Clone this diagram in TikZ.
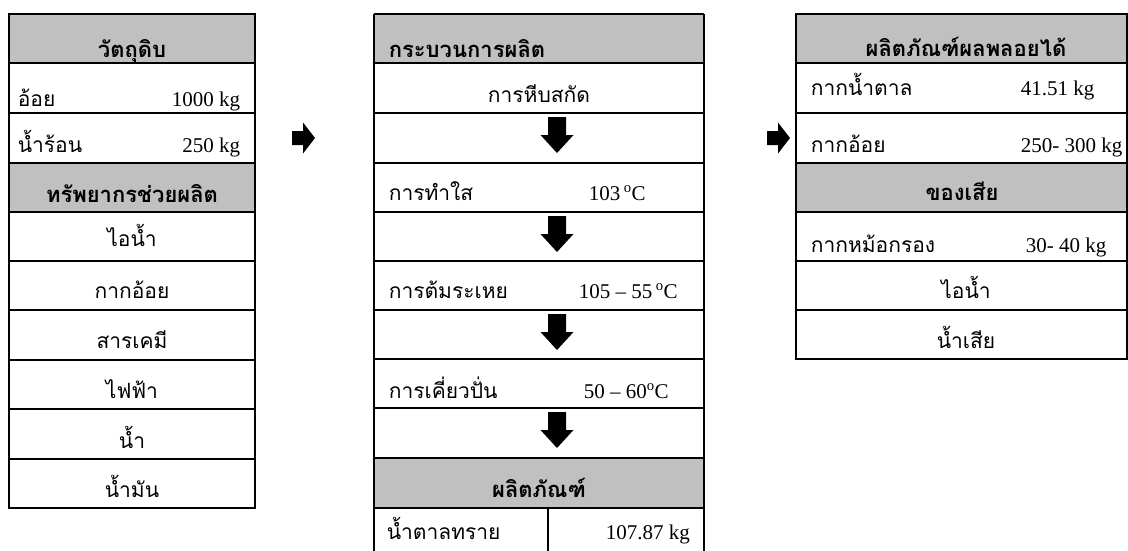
\documentclass[tikz,border=0pt]{standalone}
\usepackage{fontspec}
\setmainfont{Liberation Serif}
\newfontfamily\thai[Script=Thai]{Loma}
\definecolor{hdrgray}{RGB}{192,192,192}
\begin{document}
\begin{tikzpicture}[x=1pt,y=-1pt,line width=1.6pt,
  thl/.style={font=\thai\fontsize{21}{24}\selectfont,anchor=base west,inner sep=0pt},
  thc/.style={font=\thai\fontsize{21}{24}\selectfont,anchor=base,inner sep=0pt},
  thbl/.style={font=\thai\bfseries\fontsize{22}{24}\selectfont,anchor=base west,inner sep=0pt},
  thbc/.style={font=\thai\bfseries\fontsize{22}{24}\selectfont,anchor=base,inner sep=0pt},
  numr/.style={font=\fontsize{21}{24}\selectfont,anchor=base east,inner sep=0pt},
  numl/.style={font=\fontsize{21}{24}\selectfont,anchor=base west,inner sep=0pt},
  rarr/.pic={\fill (0,-7) -- (11,-7) -- (11,-15.5) -- (23,0) -- (11,15.5) -- (11,7) -- (0,7) -- cycle;},
  darr/.pic={\fill (-9,0) -- (9,0) -- (9,18) -- (16.5,18) -- (0,36) -- (-16.5,18) -- (-9,18) -- cycle;}
]
\useasboundingbox (0,0) rectangle (1128,550);
\begin{scope}
\clip (0,0) rectangle (1128,550);
% ---------- left table ----------
\fill[hdrgray] (9,14) rectangle (255,63);
\fill[hdrgray] (9,163) rectangle (255,212);
\foreach \y in {63,113,163,212,261,310,360,409,459}
  \draw (9,\y) -- (255,\y);
\draw (9,14) rectangle (255,508);
\node[thbc] (raw) at (132,57) {วัตถุดิบ};
\node[thl] (cane) at (17,106) {อ้อย};
\node[numr] (canekg) at (241,106) {1000 kg};
\node[thl] (hotw) at (17,152) {น้ำร้อน};
\node[numr] (hotwkg) at (241,152) {250 kg};
\node[thbc] (aux) at (132,202) {ทรัพยากรช่วยผลิต};
\node[thc] (steamA) at (132,246) {ไอน้ำ};
\node[thc] (bagA) at (132,298) {กากอ้อย};
\node[thc] (chem) at (132,348) {สารเคมี};
\node[thc] (elec) at (132,398) {ไฟฟ้า};
\node[thc] (water) at (132,448) {น้ำ};
\node[thc] (oil) at (132,497) {น้ำมัน};
% ---------- middle table ----------
\fill[hdrgray] (374,14) rectangle (704,63);
\fill[hdrgray] (374,458) rectangle (704,508);
\foreach \y in {63,113,163,212,261,310,359,408,458,508}
  \draw (374,\y) -- (704,\y);
\draw (374,14) -- (704,14);
\draw (374,14) -- (374,560);
\draw (704,14) -- (704,560);
\draw (548,508) -- (548,560);
\node[thbl] (proc) at (388,57) {กระบวนการผลิต};
\node[thc] (press) at (539,102) {การหีบสกัด};
\node[thl] (clar) at (388,200) {การทำใส};
\node[numl] (clart) at (588,200) {103\,\textsuperscript{o}C};
\node[thl] (evap) at (388,298) {การต้มระเหย};
\node[numl] (evapt) at (578,298) {105 – 55\,\textsuperscript{o}C};
\node[thl] (boil) at (388,398) {การเคี่ยวปั่น};
\node[numl] (boilt) at (583,398) {50 – 60\textsuperscript{o}C};
\node[thbc] (prod) at (539,497) {ผลิตภัณฑ์};
\node[thl] (sugar) at (386,539) {น้ำตาลทราย};
\node[numl] (sugarkg) at (605,539) {107.87 kg};
\pic (d1) at (557,117) {darr};
\pic (d2) at (557,216) {darr};
\pic (d3) at (557,314) {darr};
\pic (d4) at (557,412) {darr};
% ---------- right table ----------
\fill[hdrgray] (796,14) rectangle (1127,63);
\fill[hdrgray] (796,163) rectangle (1127,212);
\foreach \y in {63,113,163,212,261,310}
  \draw (796,\y) -- (1127,\y);
\draw (796,14) rectangle (1127,359);
\node[thbc] (byp) at (966,56) {ผลิตภัณฑ์ผลพลอยได้};
\node[thl] (mol) at (810,95) {กากน้ำตาล};
\node[numl] (molkg) at (1020,95) {41.51 kg};
\node[thl] (bagB) at (810,152) {กากอ้อย};
\node[numl] (bagBkg) at (1020,152) {250- 300 kg};
\node[thbc] (waste) at (962,200) {ของเสีย};
\node[thl] (mud) at (810,252) {กากหม้อกรอง};
\node[numl] (mudkg) at (1025,252) {30- 40 kg};
\node[thc] (steamB) at (966,298) {ไอน้ำ};
\node[thc] (ww) at (966,348) {น้ำเสีย};
% ---------- block arrows ----------
\pic (r1) at (292,138) {rarr};
\pic (r2) at (767,138) {rarr};
\end{scope}
\end{tikzpicture}
\end{document}
